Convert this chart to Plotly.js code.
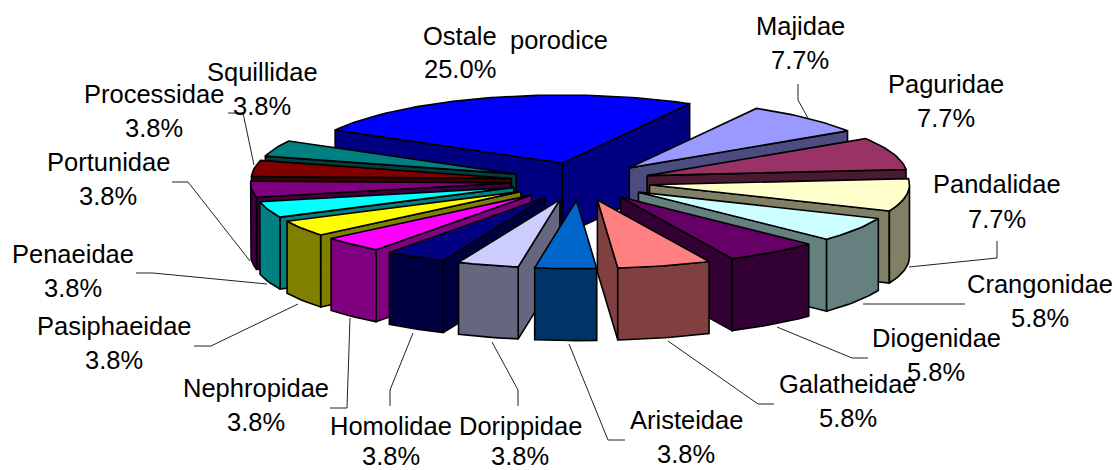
<!DOCTYPE html>
<html><head><meta charset="utf-8">
<script src="https://cdn.plot.ly/plotly-3.0.1.min.js"></script>
<style>html,body{margin:0;padding:0;background:#fff}#c{width:1115px;height:470px}</style>
</head><body><div id="c"></div>
<script>
const families=["Ostale porodice","Majidae","Paguridae","Pandalidae","Crangonidae","Diogenidae","Galatheidae","Aristeidae","Dorippidae","Homolidae","Nephropidae","Pasiphaeidae","Penaeidae","Portunidae","Processidae","Squillidae"];
const shares=[25.0,7.7,7.7,7.7,5.8,5.8,5.8,3.8,3.8,3.8,3.8,3.8,3.8,3.8,3.8,3.8];
const topColors=["#0000FF","#9999FF","#993366","#FFFFCC","#CCFFFF","#660066","#FF8080","#0066CC","#CCCCFF","#000080","#FF00FF","#FFFF00","#00FFFF","#800080","#800000","#008080"];
const sideColors=["#000080","#4C4C80","#4C1933","#808066","#668080","#330033","#804040","#003366","#666680","#000040","#800080","#808000","#008080","#400040","#400000","#004040"];
// label centres: [x, y of first line, y of second line]
const labelX=[0,800,946,997,1040,936,848,686,520,391,256,114,73,108,154,262];
const labelY1=[0,26,84,184,284,338,384,420,426,426,388,326,254,162,94,72];
const labelY2=[0,60,118,219,318,372,418,454,456,456,422,360,288,196,128,106];
// leader lines (annotation layout)
const leaders=[
 [[798,84],[798,100],[809,120]],
 [[997,241],[997,258],[909,267]],
 [[965,304],[863,304]],
 [[868,358],[852,358],[777,327]],
 [[774,404],[758,404],[668,341]],
 [[625,440],[608,440],[569,344]],
 [[518,406],[518,390],[492,342]],
 [[390,406],[390,390],[413,333]],
 [[330,408],[347,408],[350,318]],
 [[194,346],[211,346],[298,304]],
 [[136,273],[153,273],[267,284]],
 [[172,182],[188,182],[250,261]],
 [[228,113],[243,113],[254,165]]
];
// projection of the exploded pie
const CX=580.5,CY=181.5,R=260,K=0.262,EXPLODE_X=70,EXPLODE_Y=19,DEPTH=72,START=-61;
const total=shares.reduce((a,b)=>a+b,0);
const rad=d=>d*Math.PI/180;
const traces=[];
function poly(pts,fill){
  const xs=pts.map(p=>p[0]).concat([pts[0][0]]),ys=pts.map(p=>p[1]).concat([pts[0][1]]);
  traces.push({type:"scatter",mode:"lines",x:xs,y:ys,fill:"toself",fillcolor:fill,
    line:{color:"#000",width:1.6},hoverinfo:"skip",showlegend:false});
}
leaders.forEach(l=>traces.push({type:"scatter",mode:"lines",x:l.map(p=>p[0]),y:l.map(p=>p[1]),
  line:{color:"#222",width:1},hoverinfo:"skip",showlegend:false}));
let cum=0;
const slices=shares.map((v,i)=>{
  const a=START+360*cum/total; cum+=v; const b=START+360*cum/total;
  return {i,a,b,m:(a+b)/2};
});
slices.sort((p,q)=>Math.cos(rad(q.m))-Math.cos(rad(p.m)));
slices.forEach(s=>{
  const ax=CX+EXPLODE_X*Math.sin(rad(s.m+1)), ay=CY-EXPLODE_Y*Math.cos(rad(s.m+1));
  const pt=t=>[ax+R*Math.sin(rad(t)),ay-R*K*Math.cos(rad(t))];
  const down=p=>[p[0],p[1]+DEPTH];
  const apex=[ax,ay];
  const side=sideColors[s.i];
  if(Math.cos(rad(s.a-90))<0) poly([apex,pt(s.a),down(pt(s.a)),down(apex)],side);
  if(Math.cos(rad(s.b+90))<0) poly([apex,pt(s.b),down(pt(s.b)),down(apex)],side);
  const lo=Math.max(s.a,90),hi=Math.min(s.b,270);
  if(hi>lo){
    const arc=[];for(let t=lo;t<hi;t+=1.5)arc.push(pt(t));arc.push(pt(hi));
    poly(arc.concat(arc.slice().reverse().map(down)),side);
  }
  const top=[apex];for(let t=s.a;t<s.b;t+=1.5)top.push(pt(t));top.push(pt(s.b));
  poly(top,topColors[s.i]);
});
const font={family:"Liberation Sans, Arial, sans-serif",size:25.5,color:"#000"};
const note=(text,x,y)=>({text,x,y,xref:"x",yref:"y",xanchor:"center",yanchor:"middle",showarrow:false,font});
const pct=v=>v.toFixed(1)+"%";
const annotations=[note("Ostale",460,36),note("porodice",559,40),note(pct(shares[0]),460,69)];
families.forEach((f,i)=>{ if(i){annotations.push(note(f,labelX[i],labelY1[i]));annotations.push(note(pct(shares[i]),labelX[i],labelY2[i]));}});
Plotly.newPlot("c",traces,{width:1115,height:470,margin:{l:0,r:0,t:0,b:0},paper_bgcolor:"#fff",plot_bgcolor:"#fff",showlegend:false,
  xaxis:{range:[0,1115],visible:false,fixedrange:true},yaxis:{range:[470,0],visible:false,fixedrange:true},annotations},{displayModeBar:false,staticPlot:true});
</script></body></html>
